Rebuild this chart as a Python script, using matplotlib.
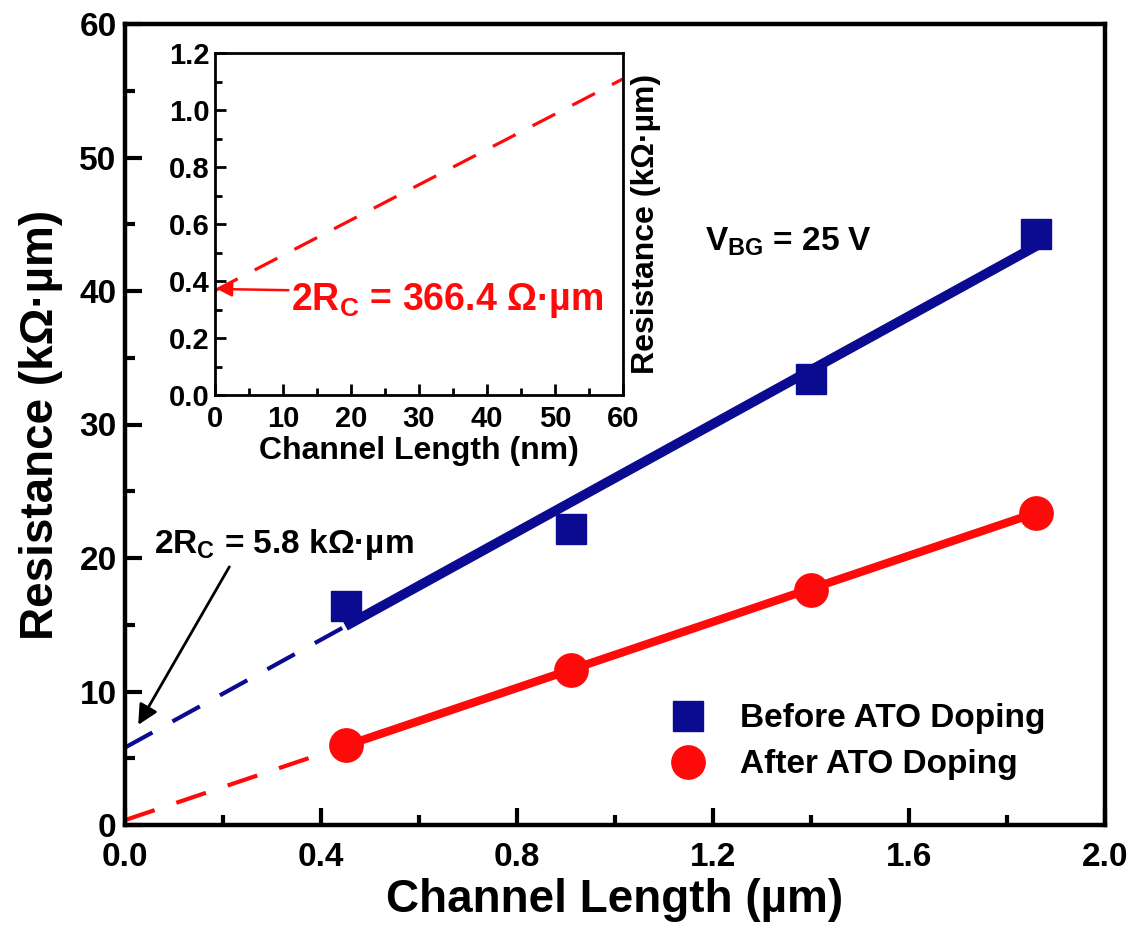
import matplotlib
matplotlib.use("Agg")
import matplotlib.pyplot as plt
from matplotlib.lines import Line2D
import numpy as np

# ---------------- data ----------------
length_um = [0.45, 0.91, 1.40, 1.86]
before_res = [16.4, 22.2, 33.4, 44.3]
after_res = [6.0, 11.6, 17.6, 23.4]

# linear fits: (intercept kOhm*um, slope kOhm per um)
before_fit = (5.8, 20.2)
after_fit = (0.3664, 12.38)

inset_xlim = (0, 60)       # nm
inset_ylim = (0.0, 1.2)
main_xlim = (0.0, 2.0)
main_ylim = (0, 60)

label_before = "Before ATO Doping"
label_after = "After ATO Doping"

BLUE = "#0B0B92"
RED = "#FF0A0A"

plt.rcParams['font.family'] = ['Liberation Sans', 'DejaVu Sans']
plt.rcParams['font.weight'] = 'bold'
plt.rcParams['mathtext.fontset'] = 'custom'
plt.rcParams['mathtext.rm'] = 'Liberation Sans:bold'
plt.rcParams['mathtext.it'] = 'Liberation Sans:bold'
plt.rcParams['mathtext.bf'] = 'Liberation Sans:bold'
plt.rcParams['mathtext.default'] = 'rm'

W, H = 1136, 932
fig = plt.figure(figsize=(W / 100, H / 100), dpi=100)
fig.patch.set_facecolor('white')

ax = fig.add_axes([125 / W, 1 - 825 / H, 980 / W, 801 / H])
axin = fig.add_axes([215 / W, 1 - 395 / H, 408 / W, 342 / H])

# ---------------- main axes ----------------
x0 = main_xlim[0]
xs = length_um[0]
xe = length_um[-1]
for fit, col, lw in [(before_fit, BLUE, 7.0), (after_fit, RED, 6.0)]:
    b, m = fit
    ax.plot([x0, xs], [b + m * x0, b + m * xs], color=col, lw=3.0,
            dashes=(7.5, 5.5), solid_capstyle='butt', zorder=2)
    ax.plot([xs, xe], [b + m * xs, b + m * xe], color=col, lw=lw,
            solid_capstyle='butt', zorder=3)

ax.plot(length_um, before_res, ls='none', marker='s', ms=21, color=BLUE,
        mec=BLUE, zorder=4)
ax.plot(length_um, after_res, ls='none', marker='o', ms=24, color=RED,
        mec=RED, zorder=4)

ax.set_xlim(*main_xlim)
ax.set_ylim(*main_ylim)
ax.set_xticks(np.arange(0, 2.01, 0.4))
ax.set_xticks(np.arange(0, 2.01, 0.2), minor=True)
ax.set_yticks(np.arange(0, 61, 10))
ax.set_yticks(np.arange(0, 61, 5), minor=True)
ax.xaxis.set_major_formatter(matplotlib.ticker.FormatStrFormatter('%.1f'))
ax.tick_params(which='both', direction='in', top=False, right=False,
               labelsize=24, width=3)
ax.tick_params(which='major', length=12)
ax.tick_params(which='minor', length=7)
ax.tick_params(axis='x', pad=12)
ax.tick_params(axis='y', pad=6)
for s in ax.spines.values():
    s.set_linewidth(3.2)

ax.set_xlabel("Channel Length (µm)", fontsize=33, fontweight='bold', labelpad=4)
ax.set_ylabel("Resistance (kΩ·µm)", fontsize=33, fontweight='bold', labelpad=12)

ax.text(1.184, 43.0, r"V$_{\rm BG}$ = 25 V", fontsize=24, fontweight='bold',
        ha='left', va='baseline')
ax.annotate(r"2R$_{\rm C}$ = 5.8 kΩ·µm", xy=(0.027, 7.5), xytext=(0.06, 20.4),
            fontsize=24, fontweight='bold', ha='left', va='baseline',
            arrowprops=dict(arrowstyle='-|>', color='black', lw=2,
                            mutation_scale=30, shrinkA=2, shrinkB=0,
                            relpos=(0.3, 0.0)))

handles = [Line2D([], [], ls='none', marker='s', ms=21, color=BLUE),
           Line2D([], [], ls='none', marker='o', ms=24, color=RED)]
ax.legend(handles, [label_before, label_after], loc='upper left',
          bbox_to_anchor=(0.549, 0.152), frameon=False, fontsize=24,
          handlelength=1.5, handletextpad=0.8, labelspacing=0.45,
          borderpad=0, borderaxespad=0)

# ---------------- inset ----------------
b, m = after_fit
m_nm = m / 1000.0
ix = np.array(inset_xlim, dtype=float)
axin.plot(ix, b + m_nm * ix, color=RED, lw=2.3, dashes=(8, 6))
axin.set_xlim(*inset_xlim)
axin.set_ylim(*inset_ylim)
axin.set_xticks(np.arange(0, 61, 10))
axin.set_xticks(np.arange(0, 61, 5), minor=True)
axin.set_yticks(np.arange(0, 1.21, 0.2))
axin.set_yticks(np.arange(0, 1.21, 0.1), minor=True)
axin.yaxis.set_major_formatter(matplotlib.ticker.FormatStrFormatter('%.1f'))
axin.tick_params(which='both', direction='in', top=False, right=False,
                 labelsize=21, width=2)
axin.tick_params(which='major', length=8)
axin.tick_params(which='minor', length=5)
axin.tick_params(axis='x', pad=7)
axin.tick_params(axis='y', pad=4)
for s in axin.spines.values():
    s.set_linewidth(2.0)
axin.set_xlabel("Channel Length (nm)", fontsize=23, fontweight='bold', labelpad=2)
axin.yaxis.set_label_position('right')
axin.set_ylabel("Resistance (kΩ·µm)", fontsize=23, fontweight='bold', labelpad=6)

axin.annotate(r"2R$_{\rm C}$ = 366.4 Ω·µm", xy=(0.3, 0.372), xytext=(11.2, 0.30),
              fontsize=27, fontweight='bold', color=RED, ha='left', va='baseline',
              arrowprops=dict(arrowstyle='-|>', color=RED, lw=1.8,
                              mutation_scale=22, shrinkA=0, shrinkB=0,
                              relpos=(0.0, 0.75)))

fig.savefig("out.png", dpi=100, facecolor='white')
